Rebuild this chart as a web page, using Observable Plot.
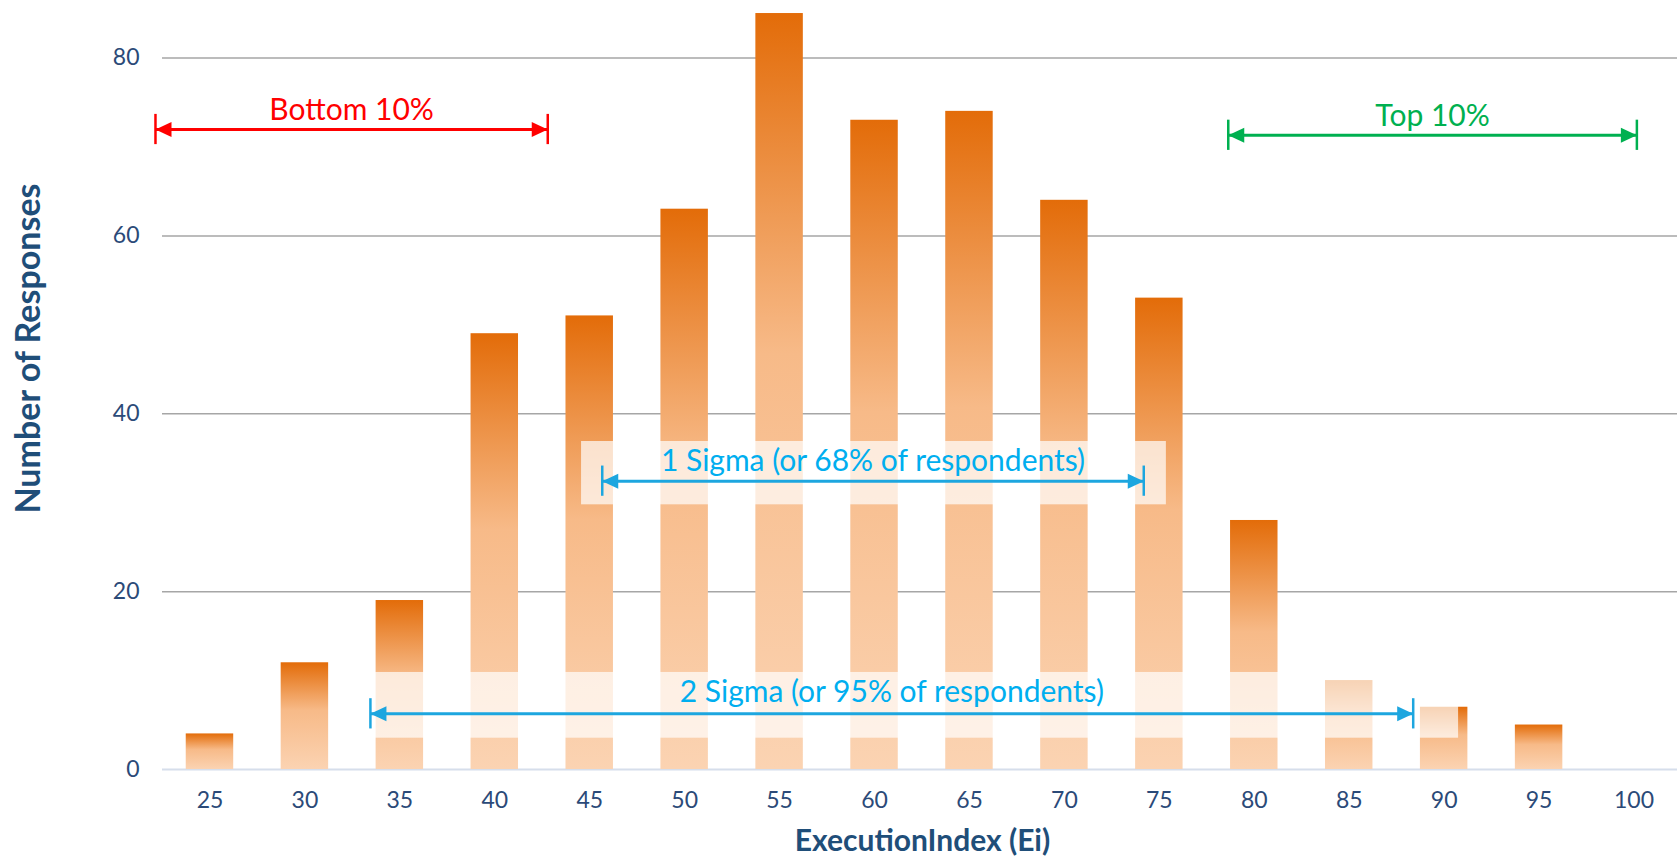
<!DOCTYPE html>
<html><head><meta charset="utf-8">
<script src="https://cdn.jsdelivr.net/npm/d3@7"></script>
<script src="https://cdn.jsdelivr.net/npm/@observablehq/plot@0.6"></script>
<style>html,body{margin:0;padding:0;background:#fff;overflow:hidden}</style>
</head><body><div id="chart"></div>
<script>
// ---- data ----
const eiValues = [25,30,35,40,45,50,55,60,65,70,75,80,85,90,95,100];
const responses = [4,12,19,49,51,63,85,73,74,64,53,28,10,7,5,0];
const yTicks = [0,20,40,60,80];
const gridValues = [20,40,60,80];
const spanLabels = ["Bottom 10%","Top 10%","1 Sigma (or 68% of respondents)","2 Sigma (or 95% of respondents)"];
const spanFrom = [22.13,78.63,45.66,33.45];
const spanTo = [42.79,100.15,74.18,88.37];
const spanLevel = [71.96,71.31,32.42,6.26];
const labelLevel = [73.08,72.4,33.54,7.57];
const boxFrom = [44.57,32.4];
const boxTo = [75.37,90.76];
const boxLow = [29.76,3.52];
const boxHigh = [36.88,10.91];
const spanColors = ["#FF0000","#00B050","#1DA6DF","#1DA6DF"];
const labelColors = ["#FF0000","#00B050","#00AEEF","#00AEEF"];

// ---- styles ----
const axisColor = "#2B4A78";
const titleColor = "#1F4E79";
const halfBar = 1.25;   // half bar width in x units
const tickHalf = 1.7;   // half end-tick height in y units

const bars = eiValues.map((ei, i) => ({ei, n: responses[i]}));
const boxes = boxFrom.map((f, i) => ({x1: f, x2: boxTo[i], y1: boxLow[i], y2: boxHigh[i]}));

function arrowHead(color, context) {
  const doc = (context && context.document) || document;
  const ns = "http://www.w3.org/2000/svg";
  const m = doc.createElementNS(ns, "marker");
  m.setAttribute("viewBox", "-18 -10 20 20");
  m.setAttribute("markerWidth", 20);
  m.setAttribute("markerHeight", 20);
  m.setAttribute("markerUnits", "userSpaceOnUse");
  m.setAttribute("refX", 0);
  m.setAttribute("refY", 0);
  m.setAttribute("orient", "auto-start-reverse");
  const p = doc.createElementNS(ns, "path");
  p.setAttribute("d", "M0,0L-16,-7.5L-16,7.5Z");
  p.setAttribute("fill", color);
  p.setAttribute("stroke", "none");
  m.appendChild(p);
  return m;
}

const annotationMarks = spanLabels.flatMap((label, i) => [
  Plot.link([i], {x1: () => spanFrom[i], x2: () => spanTo[i], y1: () => spanLevel[i], y2: () => spanLevel[i],
    stroke: spanColors[i], strokeWidth: 3, markerStart: arrowHead, markerEnd: arrowHead}),
  Plot.ruleX([spanFrom[i], spanTo[i]], {x: d => d, y1: spanLevel[i] - tickHalf, y2: spanLevel[i] + tickHalf,
    stroke: spanColors[i], strokeWidth: 2.5}),
  Plot.text([label], {x: (spanFrom[i] + spanTo[i]) / 2, y: labelLevel[i], text: d => d,
    lineAnchor: "bottom", textAnchor: "middle", fill: labelColors[i], fontSize: 30})
]);

const chart = Plot.plot({
  width: 1677,
  height: 856,
  marginLeft: 162,
  marginRight: 0,
  marginTop: 0,
  marginBottom: 87,
  style: {fontFamily: "Lato, 'Open Sans', sans-serif", fontSize: "23px", color: axisColor, background: "#fff"},
  x: {domain: [22.5, 102.5], range: [162, 1681]},
  y: {domain: [0, 80], range: [769, 57.5]},
  marks: [
    Plot.ruleY(gridValues, {stroke: "#A6A6A6", strokeWidth: 1.5}),
    Plot.ruleY([0], {stroke: "#D6DEEB", strokeWidth: 2}),
    Plot.rectY(bars, {x1: d => d.ei - halfBar, x2: d => d.ei + halfBar, y: "n", fill: "url(#barGrad)"}),
    Plot.rect(boxes, {x1: "x1", x2: "x2", y1: "y1", y2: "y2", fill: "#fff", fillOpacity: 0.7}),
    ...annotationMarks,
    Plot.axisX({ticks: eiValues, tickSize: 0, tickPadding: 22, tickFormat: d => String(d), label: null}),
    Plot.axisY({ticks: yTicks, tickSize: 0, tickPadding: 23, tickFormat: d => String(d), label: null}),
    Plot.text(["Number of Responses"], {frameAnchor: "left", text: d => d, rotate: -90, dx: -133, dy: -36.5,
      textAnchor: "middle", lineAnchor: "middle", fontWeight: "bold", fontSize: 34, fill: titleColor}),
    Plot.text(["ExecutionIndex (Ei)"], {frameAnchor: "bottom", text: d => d, dx: 2.5, dy: 72,
      textAnchor: "middle", lineAnchor: "middle", fontWeight: "bold", fontSize: 30, fill: titleColor})
  ]
});

// gradient definition for bars
const ns = "http://www.w3.org/2000/svg";
const defs = document.createElementNS(ns, "defs");
const grad = document.createElementNS(ns, "linearGradient");
grad.setAttribute("id", "barGrad");
grad.setAttribute("x1", "0"); grad.setAttribute("y1", "0");
grad.setAttribute("x2", "0"); grad.setAttribute("y2", "1");
[["0", "#E36C09"], ["0.45", "#F7BA88"], ["1", "#FBD3B2"]].forEach(([o, c]) => {
  const s = document.createElementNS(ns, "stop");
  s.setAttribute("offset", o); s.setAttribute("stop-color", c);
  grad.appendChild(s);
});
defs.appendChild(grad);
chart.insertBefore(defs, chart.firstChild);
document.getElementById("chart").appendChild(chart);
</script>
</body></html>
